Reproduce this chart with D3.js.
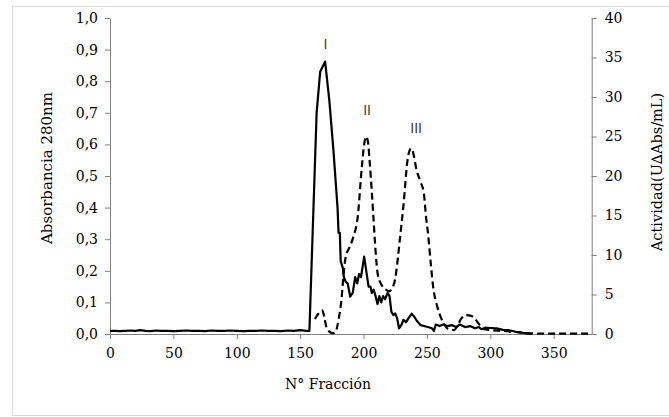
<!DOCTYPE html>
<html><head><meta charset="utf-8">
<script src="https://cdn.jsdelivr.net/npm/d3@7"></script>
<style>body{margin:0;background:#fff}svg{display:block}</style>
</head><body>
<svg id="c" width="669" height="417"></svg>
<script>
// Absorbance 280 nm (left axis)
const absFraction = [0,4,8,12,16,20,24,28,32,36,40,45,50,55,60,65,70,75,80,85,90,95,100,105,110,115,120,125,130,135,140,145,150,155,157.3,
  163,165.8,169.7,173,176.3,177,179.5,180.3,181.3,182,183.6,184.5,186,187.5,189.5,191.5,193.4,195,196.5,198,200.5,202.5,204,205.5,206.5,208,209.5,211,212.5,214,215.5,217,219,220.5,222,223.5,225,226.5,228,230,231.5,233.5,235.5,238,240,242,245,250,254,255.5,257,260,263,266,270,273,276,280,284,288,291,293,296,300,305,310,315,320,325,330,333];
const absValue = [0.010,0.010,0.009,0.010,0.011,0.010,0.012,0.010,0.009,0.011,0.010,0.010,0.009,0.010,0.011,0.010,0.010,0.009,0.011,0.010,0.010,0.011,0.010,0.009,0.010,0.010,0.011,0.010,0.010,0.009,0.011,0.010,0.012,0.010,0.010,
  0.70,0.83,0.862,0.74,0.58,0.54,0.40,0.32,0.32,0.23,0.21,0.18,0.165,0.16,0.118,0.13,0.18,0.16,0.19,0.18,0.245,0.19,0.15,0.15,0.13,0.14,0.12,0.095,0.12,0.10,0.12,0.11,0.13,0.12,0.07,0.06,0.065,0.05,0.018,0.03,0.045,0.037,0.05,0.064,0.055,0.042,0.028,0.023,0.018,0.010,0.03,0.025,0.03,0.025,0.028,0.022,0.03,0.022,0.025,0.018,0.022,0.015,0.02,0.019,0.018,0.013,0.012,0.007,0.004,0.001,0];
// Activity (right axis)
const actFraction = [161.7,164,167.4,169,170.8,173,176,178,180.5,182.5,184.5,186,189,192,195.4,198.7,200.5,202,203.5,205,207.8,209.5,211.2,214.5,217,220,223,225,226.3,229,231.4,234.8,237.5,239.8,241.5,244.9,247.6,249.5,250.9,253,255,258.3,261,263.4,266.8,268,271.5,274,276.9,281.2,285,288,292,295,300,310,320,330,340,360,380];
const actValue = [1.9,2.5,3.0,2.2,0.8,0.3,0.1,0.3,2.0,4.2,8.0,9.8,11.0,12.3,14.8,21.2,24.0,25.0,24.3,21.5,14.8,10.5,7.6,6.15,5.7,5.4,5.9,7.0,8.5,12.5,16.1,22.1,23.5,22.5,21.0,19.3,17.8,14.5,12.7,9.0,5.9,3.4,2.1,1.3,0.64,0.6,0.5,1.0,1.9,2.4,2.3,1.9,1.06,0.6,0.5,0.4,0.25,0.1,0.05,0.05,0.05];

const xTicks = [0,50,100,150,200,250,300,350];
const yLeftTicks = [0,0.1,0.2,0.3,0.4,0.5,0.6,0.7,0.8,0.9,1.0];
const yRightTicks = [0,5,10,15,20,25,30,35,40];
const peakLabels = ["I","II","III"];
const peakFraction = [170,202.8,241.5];
const peakAbs = [0.917,0.71,0.652];

const svg = d3.select("#c");
const L=110, R=591.7, T=18, B=334;
const x = d3.scaleLinear().domain([0,380]).range([L,R]);
const yL = d3.scaleLinear().domain([0,1]).range([B,T]);
const yR = d3.scaleLinear().domain([0,40]).range([B,T]);
const fmt = d3.format(".1f");
const font = "'DejaVu Serif', serif";

svg.append("rect").attr("x",12.5).attr("y",6.5).attr("width",670).attr("height",409)
  .attr("fill","none").attr("stroke","#d9d9d9").attr("stroke-width",1);

const gx = svg.append("g").attr("transform",`translate(0,${B})`)
  .call(d3.axisBottom(x).tickValues(xTicks).tickSize(5).tickSizeOuter(0).tickPadding(9));
const gl = svg.append("g").attr("transform",`translate(${L},0)`)
  .call(d3.axisLeft(yL).tickValues(yLeftTicks).tickSize(5).tickSizeOuter(0).tickPadding(7).tickFormat(d=>fmt(d).replace(".",",")));
const gr = svg.append("g").attr("transform",`translate(${R},0)`)
  .call(d3.axisRight(yR).tickValues(yRightTicks).tickSize(5).tickSizeOuter(0).tickPadding(8));
[gx,gl,gr].forEach(g=>{
  g.selectAll("path,line").attr("stroke","#808080");
  g.selectAll("text").attr("font-family",font).attr("font-size",14).attr("fill","#000");
});

const absData = absFraction.map((f,i)=>[f,absValue[i]]);
const actData = actFraction.map((f,i)=>[f,actValue[i]]);
svg.append("path").datum(absData)
  .attr("d",d3.line().x(d=>x(d[0])).y(d=>yL(d[1])))
  .attr("fill","none").attr("stroke","#000").attr("stroke-width",2.2).attr("stroke-linejoin","round");
svg.append("path").datum(actData)
  .attr("d",d3.line().curve(d3.curveMonotoneX).x(d=>x(d[0])).y(d=>yR(d[1])))
  .attr("fill","none").attr("stroke","#000").attr("stroke-width",2.2).attr("stroke-dasharray","7,4");

peakLabels.forEach((t,i)=>{
  svg.append("text").attr("x",x(peakFraction[i])).attr("y",yL(peakAbs[i])+5)
    .attr("text-anchor","middle").attr("font-family","'Liberation Sans', sans-serif")
    .attr("font-size",14).attr("fill","#404040").text(t);
});

svg.append("text").attr("x",328).attr("y",389).attr("text-anchor","middle")
  .attr("font-family",font).attr("font-size",14).text("N° Fracción");
svg.append("text").attr("transform","translate(52,168) rotate(-90)").attr("text-anchor","middle")
  .attr("font-family",font).attr("font-size",15).text("Absorbancia 280nm");
svg.append("text").attr("transform","translate(662,172) rotate(-90)").attr("text-anchor","middle")
  .attr("font-family",font).attr("font-size",14.5).text("Actividad(U∆Abs/mL)");
</script>
</body></html>
